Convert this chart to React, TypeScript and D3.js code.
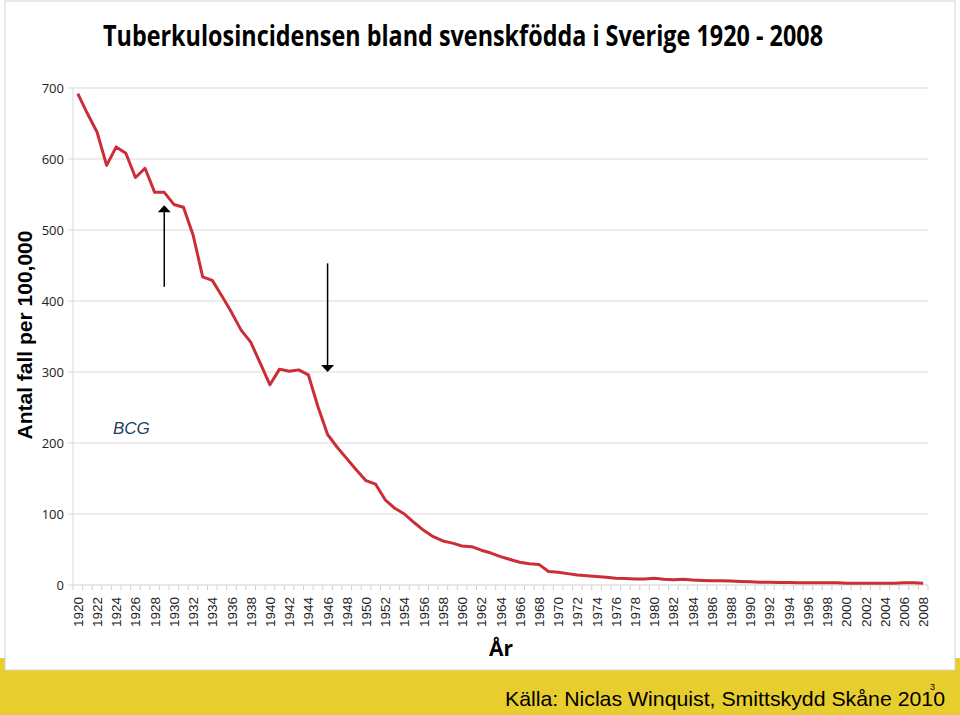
import React from "react";
import * as d3 from "d3";

const years: number[] = d3.range(1920, 2009);
const incidence: number[] = [
  692, 664, 638, 591, 617, 608, 574, 587, 553, 553,
  536, 532, 493, 434, 429, 407, 384, 359, 342, 312,
  282, 304, 301, 303, 296, 251, 212, 194, 178, 162,
  147, 142, 120, 108, 100, 88, 77, 68, 62, 59,
  55, 54, 49, 45, 40, 36, 32, 30, 29, 19,
  18, 16, 14, 13, 12, 11, 9.5, 9, 8.5, 8.5,
  9.5, 8, 7.5, 8, 7, 6.5, 6, 6, 5.5, 5,
  4.5, 4, 4, 3.5, 3.5, 3, 3, 3, 3, 3,
  2.5, 2.5, 2.5, 2.5, 2.5, 2.5, 3, 3, 2.5,
];
const yTicks: number[] = [0, 100, 200, 300, 400, 500, 600, 700];
const xLabelYears: number[] = years.filter((y) => (y - 1920) % 2 === 0);

const arrows = [
  { year: 1929, from: 420, to: 535 },
  { year: 1946, from: 453, to: 300 },
];

const W = 960;
const H = 715;
const plotLeft = 73;
const plotRight = 928;
const plotTop = 88;
const plotBottom = 585;

export default function App() {
  const x = d3
    .scaleBand<number>()
    .domain(years)
    .range([plotLeft, plotRight])
    .paddingInner(0)
    .paddingOuter(0);
  const y = d3.scaleLinear().domain([0, 700]).range([plotBottom, plotTop]);
  const cx = (yr: number) => (x(yr) as number) + x.bandwidth() / 2;

  const line = d3
    .line<number>()
    .x((_, i) => cx(years[i]))
    .y((d) => y(d));

  const boundaries = years.map((yr) => x(yr) as number).concat([plotRight]);

  return (
    <svg
      width={W}
      height={H}
      style={{ position: "absolute", left: 0, top: 0, display: "block" }}
    >
      {/* yellow band */}
      <rect x={0} y={658} width={W} height={H - 658} fill="#E8CD2E" />
      {/* chart frame */}
      <rect
        x={5}
        y={1}
        width={950}
        height={669}
        fill="#ffffff"
        stroke="#d4d4d4"
        strokeWidth={1}
      />

      {/* title */}
      <text
        x={103}
        y={46}
        fontFamily="'Open Sans', 'Liberation Sans', sans-serif"
        fontWeight="bold"
        fontSize={29}
        textLength={720}
        lengthAdjust="spacingAndGlyphs"
        fill="#000"
      >
        Tuberkulosincidensen bland svenskfödda i Sverige 1920 - 2008
      </text>

      {/* gridlines */}
      {yTicks
        .filter((t) => t > 0)
        .map((t) => (
          <line
            key={"g" + t}
            x1={plotLeft}
            x2={plotRight}
            y1={y(t)}
            y2={y(t)}
            stroke="#d9d9d9"
            strokeWidth={1}
          />
        ))}

      {/* y axis line */}
      <line
        x1={plotLeft}
        x2={plotLeft}
        y1={plotTop}
        y2={plotBottom}
        stroke="#d9d9d9"
        strokeWidth={1}
      />
      {/* x axis line */}
      <line
        x1={plotLeft}
        x2={plotRight}
        y1={plotBottom}
        y2={plotBottom}
        stroke="#d0d0d0"
        strokeWidth={1}
      />
      {/* x ticks */}
      {boundaries.map((bx, i) => (
        <line
          key={"t" + i}
          x1={bx}
          x2={bx}
          y1={plotBottom}
          y2={plotBottom + 5}
          stroke="#cfcfcf"
          strokeWidth={1}
        />
      ))}
      {/* y tick marks */}
      {yTicks.map((t) => (
        <line
          key={"yt" + t}
          x1={plotLeft - 5}
          x2={plotLeft}
          y1={y(t)}
          y2={y(t)}
          stroke="#d9d9d9"
        />
      ))}

      {/* y tick labels */}
      {yTicks.map((t) => (
        <text
          key={"yl" + t}
          x={64}
          y={y(t) + 5}
          textAnchor="end"
          fontFamily="'Open Sans', 'Liberation Sans', sans-serif"
          fontSize={13}
          fill="#222"
        >
          {t}
        </text>
      ))}

      {/* x tick labels */}
      {xLabelYears.map((yr) => (
        <text
          key={"xl" + yr}
          transform={`translate(${cx(yr) + 5},${597}) rotate(-90)`}
          textAnchor="end"
          fontFamily="'Liberation Sans', Arial, sans-serif"
          fontSize={13.5}
          fill="#222"
        >
          {yr}
        </text>
      ))}

      {/* y axis title */}
      <text
        transform={`translate(${32},${335}) rotate(-90)`}
        textAnchor="middle"
        fontFamily="'Liberation Sans', Arial, sans-serif"
        fontWeight="bold"
        fontSize={21}
        fill="#000"
      >
        Antal fall per 100,000
      </text>

      {/* x axis title */}
      <text
        x={501}
        y={656}
        textAnchor="middle"
        fontFamily="'Open Sans', 'Liberation Sans', sans-serif"
        fontWeight="bold"
        fontSize={21}
        fill="#000"
      >
        År
      </text>

      {/* data line */}
      <path
        d={line(incidence) || ""}
        fill="none"
        stroke="#CC2E36"
        strokeWidth={3}
        strokeLinejoin="round"
      />

      {/* arrows */}
      {arrows.map((a, i) => {
        const ax = cx(a.year);
        const y0 = y(a.from);
        const y1 = y(a.to);
        const dir = y1 < y0 ? -1 : 1;
        const baseY = y1 - dir * 7;
        return (
          <g key={"a" + i}>
            <line x1={ax} x2={ax} y1={y0} y2={baseY} stroke="#000" strokeWidth={1.5} />
            <path
              d={`M${ax - 6.5},${baseY} L${ax + 6.5},${baseY} L${ax},${y1} Z`}
              fill="#000"
            />
          </g>
        );
      })}

      {/* BCG label */}
      <text
        x={113}
        y={434}
        fontFamily="'Liberation Sans', Arial, sans-serif"
        fontStyle="italic"
        fontSize={17}
        fill="#243F66"
      >
        BCG
      </text>

      {/* source */}
      <text
        x={505}
        y={706}
        fontFamily="'Liberation Sans', Arial, sans-serif"
        fontSize={21}
        textLength={440}
        lengthAdjust="spacingAndGlyphs"
        fill="#000"
      >
        Källa: Niclas Winquist, Smittskydd Skåne 2010
      </text>
      <text
        x={930}
        y={690}
        fontFamily="'Liberation Sans', Arial, sans-serif"
        fontSize={9}
        fill="#000"
      >
        3
      </text>
    </svg>
  );
}
